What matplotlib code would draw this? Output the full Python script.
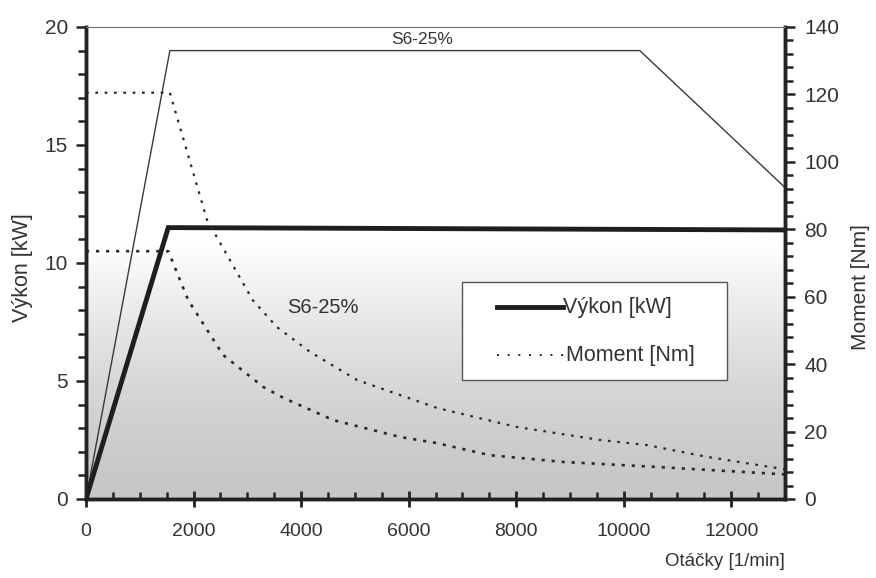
import numpy as np
import matplotlib
matplotlib.use("Agg")
import matplotlib.pyplot as plt
from matplotlib.ticker import MultipleLocator
from matplotlib.lines import Line2D
from matplotlib.patches import Rectangle

plt.rcParams['font.family'] = ['Liberation Sans', 'DejaVu Sans']

# Power curves [kW] vs speed [1/min]
power_n = [0, 1530, 13000]
power_kw = [0, 11.5, 11.4]
s6_n = [0, 1560, 10300, 13000]
s6_kw = [0, 19.0, 19.0, 13.2]

# Torque curves [Nm]
torque_s6_n = [0, 1560, 2250, 3100, 3550, 4170, 5040, 6530, 8000, 9560, 10430, 11550, 13000]
torque_s6_nm = [120.5, 120.5, 82.8, 59, 51, 43.6, 35.3, 27, 21.4, 17.5, 16.0, 12.5, 8.8]
torque_n = [0, 1530, 1900, 2550, 3300, 3670, 4600, 5840, 6520, 7510, 8870, 10620, 13000]
torque_nm = [73.5, 73.5, 59, 42.7, 33.2, 30, 23.4, 18.4, 16.6, 13, 11, 9.5, 7.3]

xlabel = "Otáčky [1/min]"
ylabel_left = "Výkon [kW]"
ylabel_right = "Moment [Nm]"
legend_labels = ["Výkon [kW]", "Moment [Nm]"]
annot = "S6-25%"

fig = plt.figure(figsize=(8.76, 5.78), dpi=100)
ax = fig.add_axes([86/876, 1-499/578, 699/876, 472/578])
ax2 = ax.twinx()

ax.set_xlim(0, 13000)
ax.set_ylim(0, 20)
ax2.set_ylim(0, 140)

# gray background gradient
grad = np.linspace(0, 1, 256).reshape(-1, 1)
vals = 0.78 + 0.22 * grad**1.5
img = np.dstack([vals, vals, vals, np.ones_like(vals)])
ax.imshow(img, extent=[0, 13000, 0, 10.8], origin='lower', aspect='auto', zorder=0,
          interpolation='bilinear')

dark = '#1e1e1e'
ax.plot(s6_n, s6_kw, color='#3a3a3a', lw=1.0, zorder=3)
ax.plot(power_n, power_kw, color=dark, lw=3.5, zorder=4, solid_joinstyle='miter')
ax2.plot(torque_s6_n, torque_s6_nm, color='#2a2a2a', lw=1.6, ls=(0, (1.2, 3.0)))
ax2.plot(torque_n, torque_nm, color='#2a2a2a', lw=1.9, ls=(0, (1.2, 2.6)))

ax.text(6250, 19.45, annot, fontsize=12.5, ha='center', va='center', color='#333333')
ax.text(4410, 8.1, annot, fontsize=14.5, ha='center', va='center', color='#333333')

# Axes styling
for a in (ax, ax2):
    a.spines['top'].set_linewidth(0.8)
    a.spines['top'].set_color('#777777')
    a.spines['left'].set_linewidth(2.5)
    a.spines['bottom'].set_linewidth(2.5)
    a.spines['right'].set_linewidth(2.5)
    for s in ('left', 'bottom', 'right'):
        a.spines[s].set_color('#222222')

ax.xaxis.set_major_locator(MultipleLocator(2000))
ax.xaxis.set_minor_locator(MultipleLocator(500))
ax.yaxis.set_major_locator(MultipleLocator(5))
ax.yaxis.set_minor_locator(MultipleLocator(1))
ax2.yaxis.set_major_locator(MultipleLocator(20))
ax2.yaxis.set_minor_locator(MultipleLocator(4))

ax.tick_params(axis='x', which='major', direction='inout', length=11, width=2, pad=12,
               labelsize=14, colors='#222222', labelcolor='#333333')
ax.tick_params(axis='x', which='minor', direction='in', length=5, width=1.8, colors='#222222')
ax.tick_params(axis='y', which='major', direction='out', length=7, width=1.8, pad=6,
               labelsize=15, colors='#222222', labelcolor='#333333')
ax.tick_params(axis='y', which='minor', direction='out', length=6, width=1.8, colors='#222222')
ax2.tick_params(axis='y', which='major', direction='out', length=7, width=1.8, pad=7,
                labelsize=15, colors='#222222', labelcolor='#333333')
ax2.tick_params(axis='y', which='minor', direction='out', length=6, width=1.8, colors='#222222')

ax.set_xlabel(xlabel, fontsize=13.5, color='#333333', loc='right')
ax.xaxis.set_label_coords(1.0, -0.115)
ax.xaxis.label.set_horizontalalignment('right')
ax.set_ylabel(ylabel_left, fontsize=15.5, color='#333333')
ax.yaxis.set_label_coords(-0.076, 0.49)
ax2.set_ylabel(ylabel_right, fontsize=15, color='#333333')
ax2.yaxis.set_label_coords(1.094, 0.45)

# legend box (drawn in axes-fraction coordinates)
def fx(px):
    return (px - 86) / 699

def fy(py):
    return (499 - py) / 472

ax2.add_patch(Rectangle((fx(462), fy(380)), fx(727) - fx(462), fy(282) - fy(380),
                        transform=ax2.transAxes, facecolor='white', edgecolor='#555555',
                        lw=1.0, zorder=10))
ax2.add_line(Line2D([fx(497), fx(563)], [fy(307), fy(307)], transform=ax2.transAxes,
                    color=dark, lw=3.5, zorder=11))
ax2.add_line(Line2D([fx(497), fx(565)], [fy(355), fy(355)], transform=ax2.transAxes,
                    color='#2a2a2a', lw=1.4, ls=(0, (1.0, 4.5)), zorder=11))
ax2.text(fx(563), fy(307), legend_labels[0], transform=ax2.transAxes, fontsize=15.5,
         ha='left', va='center', color='#333333', zorder=12)
ax2.text(fx(566), fy(355), legend_labels[1], transform=ax2.transAxes, fontsize=15.5,
         ha='left', va='center', color='#333333', zorder=12)

fig.savefig('out.png', dpi=100)
